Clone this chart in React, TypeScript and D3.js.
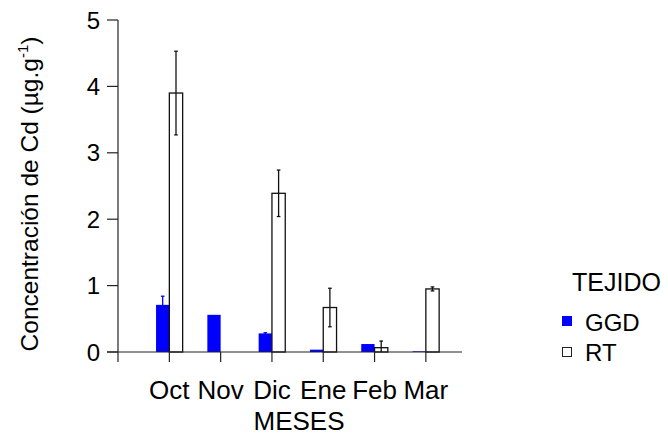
import React from "react";
import * as d3 from "d3";

const months = ["Oct", "Nov", "Dic", "Ene", "Feb", "Mar"];
const ggdValues = [0.71, 0.56, 0.28, 0.035, 0.12, 0.01];
const ggdErrors = [0.13, 0, 0.01, 0, 0, 0];
const rtValues = [3.9, 0, 2.39, 0.67, 0.065, 0.95];
const rtErrors = [0.63, 0, 0.35, 0.29, 0.1, 0.03];
const yTicks = [0, 1, 2, 3, 4, 5];
const seriesNames = ["GGD", "RT"];

const W = 668;
const H = 437;
const FONT = "'Liberation Sans', Arial, Helvetica, sans-serif";
const BLUE = "#0000ff";

export default function App() {
  const x = d3.scaleBand<string>().domain(months).range([143.7, 451.5]).padding(0);
  const y = d3.scaleLinear().domain([0, 5]).range([352, 20]);
  const bw = 13.3;
  const axisX = 118;
  const baseY = y(0);
  const cx = (m: string) => (x(m) as number) + x.bandwidth() / 2;
  const cap = 1.8;

  return (
    <svg width={W} height={H} style={{ position: "absolute", left: 0, top: 0, background: "#fff" }}>
      <rect x={0} y={0} width={W} height={H} fill="#fff" />
      {/* GGD bars */}
      {months.map((m, i) => {
        const v = ggdValues[i];
        const e = ggdErrors[i];
        const x0 = cx(m) - bw;
        return (
          <g key={"g" + m}>
            <rect x={x0} y={y(v)} width={bw} height={baseY - y(v)} fill={BLUE} />
            {e > 0 && (
              <g stroke={BLUE} strokeWidth={1.3}>
                <line x1={x0 + bw / 2} x2={x0 + bw / 2} y1={y(v + e)} y2={y(Math.max(0, v - e))} />
                <line x1={x0 + bw / 2 - cap} x2={x0 + bw / 2 + cap} y1={y(v + e)} y2={y(v + e)} />
              </g>
            )}
          </g>
        );
      })}
      {/* RT bars */}
      {months.map((m, i) => {
        const v = rtValues[i];
        const e = rtErrors[i];
        const x0 = cx(m);
        const mid = x0 + bw / 2;
        return (
          <g key={"r" + m}>
            <rect x={x0} y={y(v)} width={bw} height={baseY - y(v)} fill="#fff" stroke="#111" strokeWidth={1.3} />
            {e > 0 && (
              <g stroke="#111" strokeWidth={1.3}>
                <line x1={mid} x2={mid} y1={y(v + e)} y2={y(Math.max(0, v - e))} />
                <line x1={mid - cap} x2={mid + cap} y1={y(v + e)} y2={y(v + e)} />
                {v - e > 0 && <line x1={mid - cap} x2={mid + cap} y1={y(v - e)} y2={y(v - e)} />}
              </g>
            )}
          </g>
        );
      })}
      {/* axes */}
      <g stroke="#222" strokeWidth={1.2}>
        <line x1={axisX} x2={axisX} y1={y(5)} y2={baseY + 10} />
        <line x1={axisX - 11} x2={462} y1={baseY} y2={baseY} />
        {yTicks.map((t) => (
          <line key={"yt" + t} x1={axisX - 11} x2={axisX} y1={y(t)} y2={y(t)} />
        ))}
        {months.map((m) => (
          <line key={"xt" + m} x1={cx(m)} x2={cx(m)} y1={baseY} y2={baseY + 10} />
        ))}
      </g>
      <g fontFamily={FONT} fill="#000">
        {yTicks.map((t) => (
          <text key={"yl" + t} x={100} y={y(t)} dy="0.36em" textAnchor="end" fontSize={24}>
            {t}
          </text>
        ))}
        {months.map((m) => (
          <text key={"xl" + m} x={cx(m)} y={399} textAnchor="middle" fontSize={26}>
            {m}
          </text>
        ))}
        <text x={299} y={430} textAnchor="middle" fontSize={26}>MESES</text>
        <text transform={`translate(38,194) rotate(-90)`} textAnchor="middle" fontSize={24.5}>
          Concentración de Cd (µg.g
          <tspan fontSize={15} dy={-10}>-1</tspan>
          <tspan dy={10}>)</tspan>
        </text>
        <text x={572} y={291} fontSize={25}>TEJIDO</text>
        <rect x={562} y={316} width={10} height={10} fill={BLUE} />
        <text x={585} y={331} fontSize={24}>{seriesNames[0]}</text>
        <rect x={562.5} y={347.5} width={9} height={9} fill="#fff" stroke="#222" strokeWidth={1} />
        <text x={585} y={361} fontSize={24}>{seriesNames[1]}</text>
      </g>
    </svg>
  );
}
